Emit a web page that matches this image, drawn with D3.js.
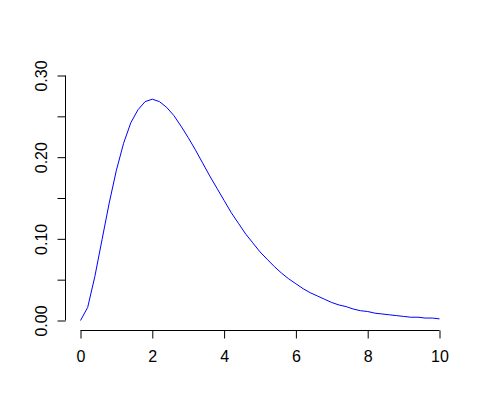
<!DOCTYPE html>
<html>
<head>
<meta charset="utf-8">
<script src="https://cdn.jsdelivr.net/npm/d3@7"></script>
<style>
  body { margin: 0; background: #fff; }
  text { font-family: "Liberation Sans", Arial, sans-serif; font-size: 16px; fill: #000; }
</style>
</head>
<body>
<div class="container"></div>
<script>
const width = 480;
const height = 406;

// values, x step 0.2
const xs = d3.range(0, 10.0001, 0.2).map(v => +v.toFixed(1));
const ys = [
  0, 0.016, 0.054, 0.099, 0.144, 0.184, 0.217, 0.242, 0.258, 0.268,
  0.271, 0.268, 0.261, 0.251, 0.238, 0.224, 0.209, 0.193, 0.177, 0.162,
  0.147, 0.132, 0.119, 0.106, 0.095, 0.084, 0.075, 0.066, 0.058, 0.051,
  0.045, 0.039, 0.034, 0.030, 0.026, 0.022, 0.019, 0.017, 0.014, 0.012,
  0.011, 0.009, 0.008, 0.007, 0.006, 0.005, 0.004, 0.004, 0.003, 0.003,
  0.002
];
const xTicks = [0, 2, 4, 6, 8, 10];
const yTicks = [0, 0.05, 0.10, 0.15, 0.20, 0.25, 0.30];
const yLabels = [0, 0.10, 0.20, 0.30];

const xScale = d3.scaleLinear().domain([0, 10]).range([80.5, 439.5]);
const yScale = d3.scaleLinear().domain([0, 0.3]).range([320.5, 75.5]);

const svg = d3.select('.container')
    .append('svg')
    .attr('width', width)
    .attr('height', height)

// x axis
const xAxis = d3.axisBottom(xScale)
    .tickValues(xTicks)
    .tickFormat(d3.format('d'))
    .tickSize(8)
    .tickPadding(12)
    .tickSizeOuter(0);

const gx = svg.append('g')
    .attr('transform', 'translate(0,330.5)')
    .call(xAxis)
gx.select('.domain').attr('d', `M${xScale(0)},0H${xScale(10)}`)
gx.selectAll('text').attr('font-size', 16).attr('font-family', 'Liberation Sans, Arial, sans-serif')
gx.selectAll('line, path').attr('stroke', '#000')

// y axis
const yAxis = d3.axisLeft(yScale)
    .tickValues(yTicks)
    .tickFormat(d => yLabels.some(l => Math.abs(l - d) < 1e-9) ? d3.format('.2f')(d) : '')
    .tickSize(8)
    .tickSizeOuter(0);

const gy = svg.append('g')
    .attr('transform', 'translate(65.5,0)')
    .call(yAxis)
gy.select('.domain').attr('d', `M0,${yScale(0)}V${yScale(0.3)}`)
gy.selectAll('line, path').attr('stroke', '#000')
gy.selectAll('text')
    .attr('font-size', 16)
    .attr('font-family', 'Liberation Sans, Arial, sans-serif')
    .attr('x', 0)
    .attr('dy', null)
    .attr('text-anchor', 'middle')
    .attr('transform', 'translate(-19,0) rotate(-90)')

// curve
const line = d3.line()
    .x((d, i) => xScale(xs[i]))
    .y(d => yScale(d))

svg.append('path')
    .datum(ys)
    .attr('fill', 'none')
    .attr('stroke', '#0000ff')
    .attr('stroke-width', 1)
    .attr('d', line)
</script>
</body>
</html>
